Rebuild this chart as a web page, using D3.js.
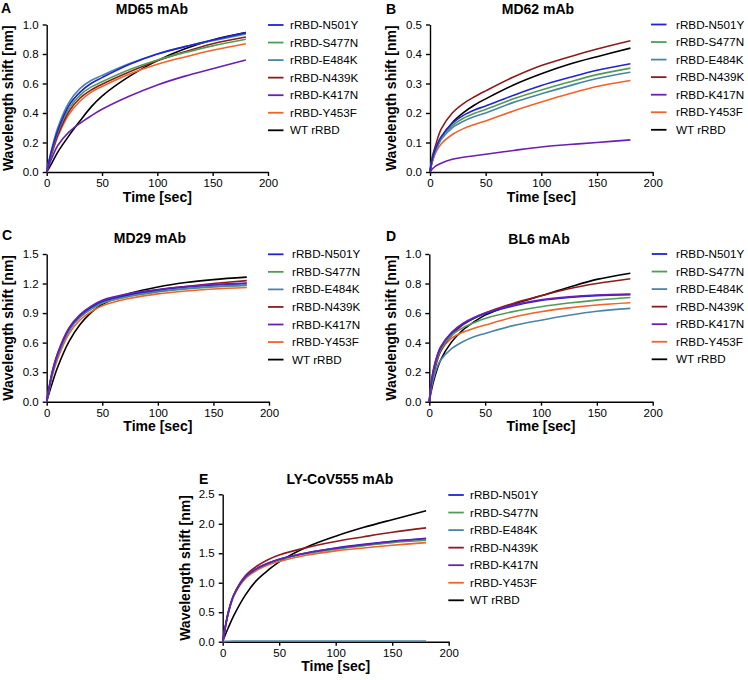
<!DOCTYPE html>
<html><head><meta charset="utf-8">
<script src="https://cdn.jsdelivr.net/npm/d3@7"></script>
<style>
body{margin:0;background:#fff;}
text{font-family:Arial,"Liberation Sans",sans-serif;}
</style></head>
<body><svg id="chart" width="748" height="680"></svg>
<script>
// ---------- data ----------
const seriesNames = ["rRBD-N501Y","rRBD-S477N","rRBD-E484K","rRBD-N439K","rRBD-K417N","rRBD-Y453F","WT rRBD"];
const timeSec = [0,2,5,10,20,30,40,50,75,100,125,150,180];
const xTicks = [0,50,100,150,200];

// rows follow seriesNames order
const valuesMD65 = [
  [0,0.07,0.16,0.28,0.45,0.54,0.60,0.64,0.73,0.80,0.85,0.895,0.945],
  [0,0.065,0.15,0.27,0.43,0.52,0.575,0.612,0.695,0.76,0.81,0.855,0.90],
  [0,0.075,0.17,0.30,0.47,0.565,0.62,0.655,0.735,0.80,0.85,0.89,0.935],
  [0,0.06,0.14,0.25,0.41,0.50,0.555,0.595,0.68,0.755,0.815,0.87,0.915],
  [0,0.045,0.10,0.18,0.27,0.33,0.38,0.425,0.515,0.59,0.65,0.70,0.76],
  [0,0.055,0.13,0.24,0.39,0.48,0.54,0.58,0.665,0.73,0.78,0.825,0.87],
  [0,0.025,0.065,0.135,0.245,0.345,0.44,0.515,0.65,0.755,0.835,0.895,0.945]
];
const valuesMD62 = [
  [0,0.045,0.08,0.12,0.165,0.192,0.21,0.224,0.26,0.293,0.32,0.345,0.367],
  [0,0.042,0.075,0.115,0.157,0.182,0.199,0.212,0.248,0.278,0.305,0.33,0.352],
  [0,0.04,0.07,0.11,0.15,0.172,0.188,0.20,0.236,0.265,0.292,0.317,0.338],
  [0,0.05,0.09,0.145,0.20,0.232,0.255,0.275,0.322,0.361,0.39,0.417,0.445],
  [0,0.01,0.02,0.03,0.043,0.05,0.055,0.06,0.073,0.085,0.093,0.10,0.109],
  [0,0.035,0.065,0.095,0.127,0.147,0.161,0.173,0.207,0.237,0.265,0.29,0.31],
  [0,0.035,0.07,0.115,0.167,0.201,0.227,0.248,0.295,0.333,0.365,0.391,0.42]
];
const valuesMD29 = [
  [0,0.13,0.30,0.49,0.74,0.875,0.96,1.02,1.09,1.135,1.165,1.185,1.20],
  [0,0.12,0.28,0.47,0.72,0.855,0.94,1.00,1.07,1.115,1.145,1.165,1.18],
  [0,0.125,0.29,0.48,0.725,0.86,0.945,1.005,1.075,1.12,1.15,1.17,1.185],
  [0,0.125,0.29,0.48,0.73,0.865,0.95,1.01,1.085,1.135,1.17,1.20,1.23],
  [0,0.135,0.31,0.50,0.75,0.885,0.97,1.03,1.10,1.14,1.17,1.19,1.205],
  [0,0.11,0.26,0.44,0.69,0.83,0.915,0.975,1.05,1.095,1.125,1.145,1.16],
  [0,0.08,0.19,0.355,0.61,0.785,0.905,0.99,1.10,1.165,1.21,1.24,1.265]
];
const valuesBL6 = [
  [0,0.14,0.255,0.365,0.465,0.525,0.565,0.595,0.648,0.685,0.705,0.718,0.725],
  [0,0.13,0.24,0.35,0.45,0.50,0.535,0.564,0.61,0.643,0.668,0.688,0.706],
  [0,0.10,0.19,0.28,0.36,0.406,0.44,0.462,0.515,0.552,0.585,0.612,0.632],
  [0,0.12,0.22,0.34,0.45,0.52,0.565,0.60,0.665,0.717,0.765,0.80,0.832],
  [0,0.145,0.26,0.37,0.47,0.53,0.57,0.60,0.655,0.69,0.71,0.722,0.728],
  [0,0.125,0.23,0.34,0.43,0.47,0.497,0.519,0.572,0.609,0.635,0.655,0.67],
  [0,0.08,0.17,0.28,0.405,0.485,0.54,0.586,0.66,0.717,0.775,0.828,0.87]
];
const valuesLY = [
  [0,0.22,0.50,0.80,1.10,1.24,1.33,1.40,1.51,1.59,1.65,1.705,1.755],
  [0,0.21,0.49,0.79,1.09,1.23,1.32,1.385,1.495,1.57,1.63,1.68,1.72],
  [0,0.005,0.008,0.01,0.01,0.01,0.01,0.01,0.01,0.01,0.01,0.012,0.012],
  [0,0.22,0.50,0.80,1.12,1.28,1.39,1.47,1.60,1.70,1.78,1.855,1.93],
  [0,0.22,0.50,0.80,1.10,1.24,1.33,1.40,1.51,1.585,1.645,1.70,1.745],
  [0,0.20,0.48,0.78,1.07,1.21,1.30,1.36,1.47,1.54,1.59,1.635,1.68],
  [0,0.10,0.24,0.45,0.79,1.04,1.21,1.355,1.61,1.79,1.94,2.07,2.22]
];
const yTicksMD65 = [0,0.2,0.4,0.6,0.8,1.0];
const yTicksMD62 = [0,0.1,0.2,0.3,0.4,0.5];
const yTicksMD29 = [0,0.3,0.6,0.9,1.2,1.5];
const yTicksBL6  = [0,0.2,0.4,0.6,0.8,1.0];
const yTicksLY   = [0,0.5,1.0,1.5,2.0,2.5];

// ---------- styles / layout ----------
const colors = ["#2222d6","#4f9d54","#4a85a8","#8c1c1c","#6b1fb3","#f0632b","#000000"];
const drawOrder = [6,5,3,1,2,0,4];

const panels = [
  {letter:"A", title:"MD65 mAb", values:valuesMD65, yTicks:yTicksMD65,
   left:46.7, right:268, top:24.5, bottom:172, titleX:152, titleY:13.5, letterX:1, letterY:13,
   ylabX:13, legX:268, legTextX:290, legY:25},
  {letter:"B", title:"MD62 mAb", values:valuesMD62, yTicks:yTicksMD62,
   left:430, right:652.7, top:24.5, bottom:172, titleX:538, titleY:14, letterX:386, letterY:14,
   ylabX:396, legX:651, legTextX:676, legY:24.5},
  {letter:"C", title:"MD29 mAb", values:valuesMD29, yTicks:yTicksMD29,
   left:46.7, right:269, top:254, bottom:401.7, titleX:150, titleY:243.3, letterX:2, letterY:240,
   ylabX:13, legX:268, legTextX:292, legY:254.3},
  {letter:"D", title:"BL6 mAb", values:valuesBL6, yTicks:yTicksBL6,
   left:429.3, right:652.7, top:254, bottom:401.7, titleX:539, titleY:244, letterX:386, letterY:240.5,
   ylabX:396, legX:651.7, legTextX:676, legY:254},
  {letter:"E", title:"LY-CoV555 mAb", values:valuesLY, yTicks:yTicksLY,
   left:222.7, right:448.7, top:494.3, bottom:641.7, titleX:340, titleY:484.3, letterX:199, letterY:484,
   ylabX:190, legX:448.3, legTextX:470, legY:495}
];

const svg = d3.select("#chart");
const fmt = d3.format(".1f");

panels.forEach(p => {
  const g = svg.append("g");
  const x = d3.scaleLinear().domain([0,200]).range([p.left,p.right]);
  const y = d3.scaleLinear().domain([0,d3.max(p.yTicks)]).range([p.bottom,p.top]);

  // axes
  const xa = g.append("g").attr("transform",`translate(0,${p.bottom})`)
    .call(d3.axisBottom(x).tickValues(xTicks).tickSize(4).tickSizeOuter(0).tickPadding(3).tickFormat(d3.format("d")));
  const ya = g.append("g").attr("transform",`translate(${p.left},0)`)
    .call(d3.axisLeft(y).tickValues(p.yTicks).tickSize(4).tickSizeOuter(0).tickPadding(4).tickFormat(fmt));
  [xa,ya].forEach(a=>{
    a.select(".domain").attr("stroke","#000").attr("stroke-width",1.4);
    a.selectAll(".tick line").attr("stroke","#000").attr("stroke-width",1.4);
    a.selectAll(".tick text").attr("fill","#000").style("font-size","11.5px");
  });

  // lines
  const line = d3.line().x((d,i)=>x(timeSec[i])).y(d=>y(d)).curve(d3.curveCatmullRom.alpha(0.5));
  drawOrder.forEach(si=>{
    g.append("path").datum(p.values[si]).attr("d",line)
      .attr("fill","none").attr("stroke",colors[si]).attr("stroke-width",1.6)
      .attr("stroke-linejoin","round");
  });

  // titles
  g.append("text").attr("x",p.titleX).attr("y",p.titleY).attr("text-anchor","middle")
    .style("font-size","14px").style("font-weight","bold").text(p.title);
  g.append("text").attr("x",p.letterX).attr("y",p.letterY)
    .style("font-size","14px").style("font-weight","bold").text(p.letter);
  g.append("text").attr("x",(p.left+p.right)/2).attr("y",p.bottom+29.5).attr("text-anchor","middle")
    .style("font-size","14px").style("font-weight","bold").text("Time [sec]");
  g.append("text").attr("transform",`translate(${p.ylabX},${(p.top+p.bottom)/2}) rotate(-90)`)
    .attr("text-anchor","middle").style("font-size","14px").style("font-weight","bold")
    .text("Wavelength shift [nm]");

  // legend
  seriesNames.forEach((name,i)=>{
    const ly = p.legY + i*17.55;
    g.append("line").attr("x1",p.legX).attr("x2",p.legX+15.5).attr("y1",ly).attr("y2",ly)
      .attr("stroke",colors[i]).attr("stroke-width",1.8);
    g.append("text").attr("x",p.legTextX).attr("y",ly).attr("dy","0.35em")
      .style("font-size","11.7px").attr("fill","#000").text(name);
  });
});
</script></body></html>
